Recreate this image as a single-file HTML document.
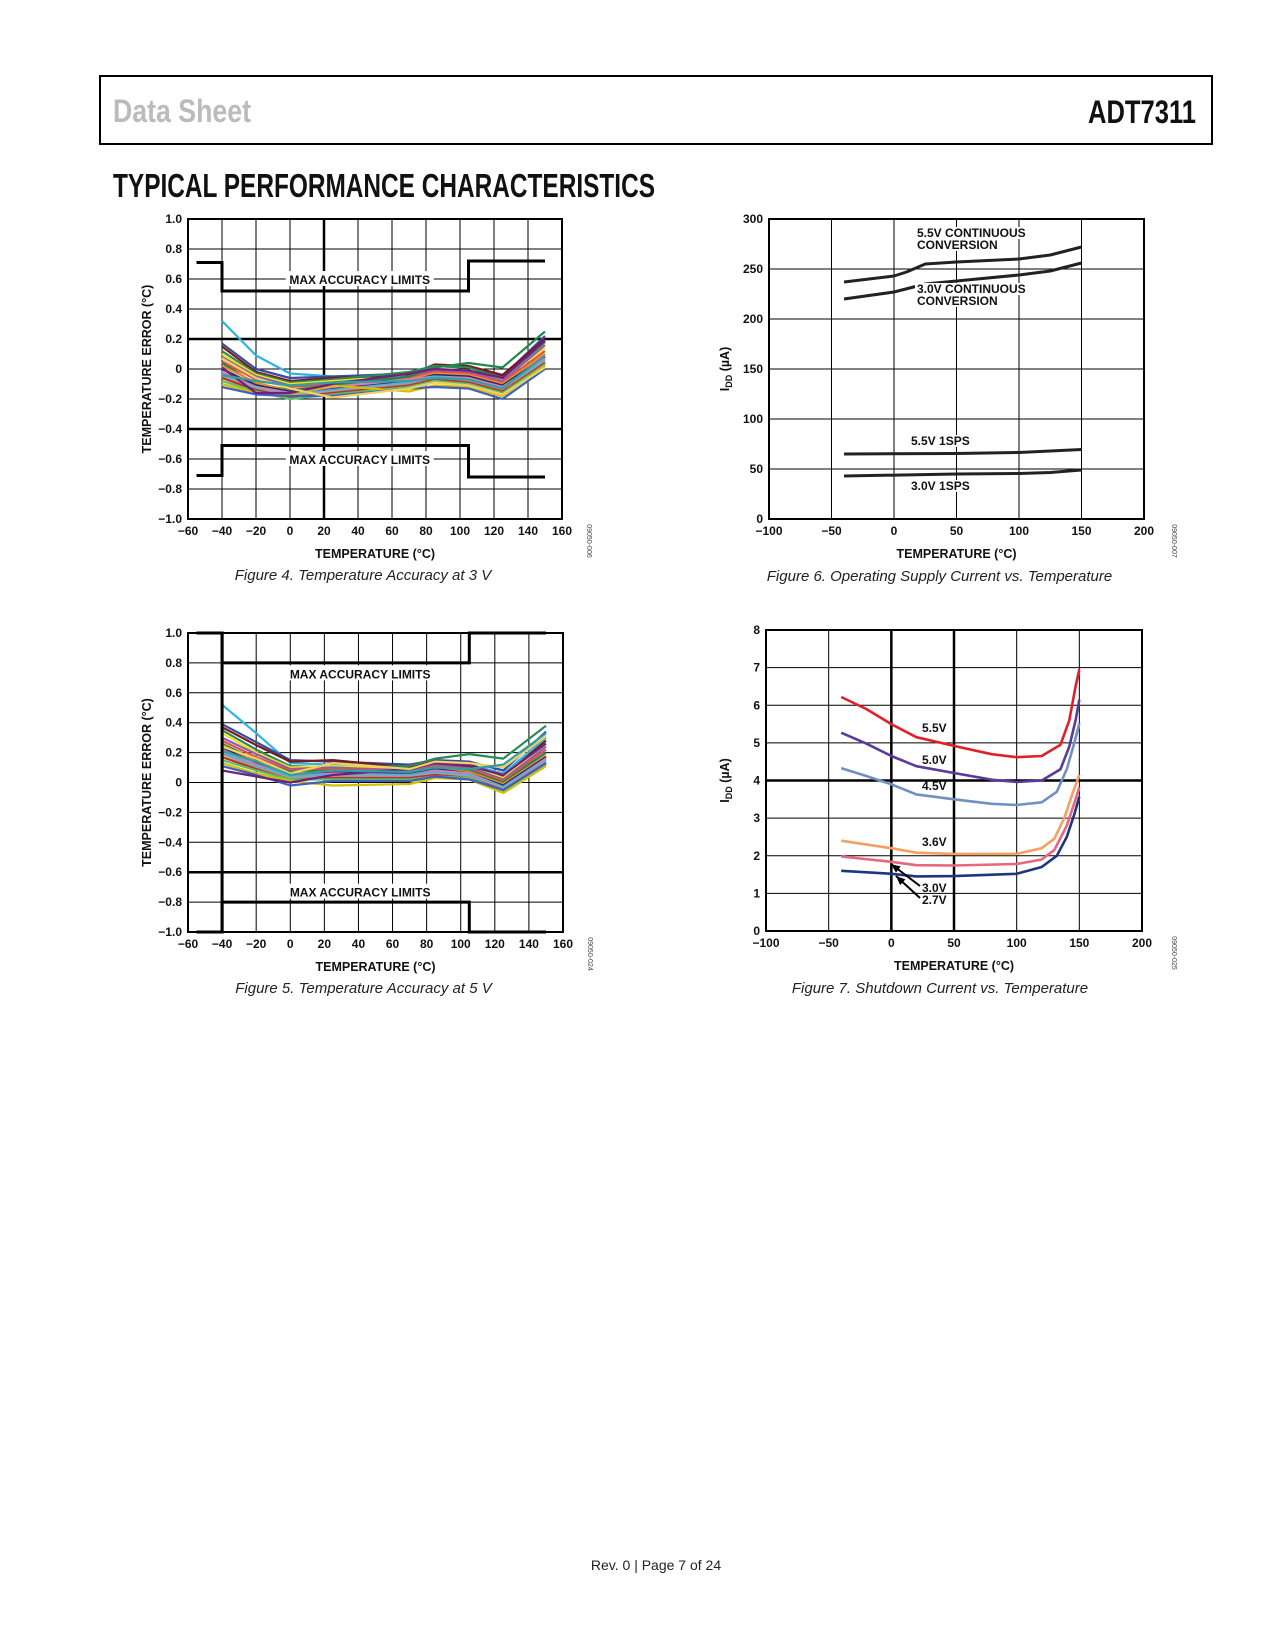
<!DOCTYPE html>
<html><head><meta charset="utf-8"><style>
html,body{margin:0;padding:0;background:#fff;}
svg{display:block;}
text{font-family:"Liberation Sans",sans-serif;}
.tk{font-size:12px;font-weight:bold;fill:#111;}
.at{font-size:12.5px;font-weight:bold;fill:#111;}
.cap{font-size:15px;font-style:italic;fill:#222;}
.lbl{font-size:12px;font-weight:bold;fill:#111;}
.code{font-size:7px;fill:#444;}
</style></head><body>
<svg id="page" width="1275" height="1650" viewBox="0 0 1275 1650" xmlns="http://www.w3.org/2000/svg">
<rect x="100" y="76" width="1112" height="68" fill="none" stroke="#000" stroke-width="2"/>
<text x="113" y="122" font-family="'Liberation Sans Narrow','Liberation Sans',sans-serif" font-weight="bold" font-size="32" fill="#bbb" textLength="138" lengthAdjust="spacingAndGlyphs">Data Sheet</text>
<text x="1088" y="123" font-family="'Liberation Sans Narrow','Liberation Sans',sans-serif" font-weight="bold" font-size="32" fill="#111" textLength="108" lengthAdjust="spacingAndGlyphs">ADT7311</text>
<text x="113" y="197" font-family="'Liberation Sans Narrow','Liberation Sans',sans-serif" font-weight="bold" font-size="33" fill="#111" textLength="542" lengthAdjust="spacingAndGlyphs">TYPICAL PERFORMANCE CHARACTERISTICS</text>
<text x="656" y="1570" text-anchor="middle" font-size="14" fill="#222">Rev. 0 | Page 7 of 24</text>
<g id="g1"></g><g id="g2"></g><g id="g3"></g><g id="g4"></g>
</svg>
<script>
// ---------- Figure 4 data (3 V) ----------
const f4Temps = [-40,-20,0,25,70,85,105,125,150];
const f4Series = [
 [0.32,0.09,-0.03,-0.05,-0.05,-0.02,-0.03,-0.10,0.05],
 [0.17,0.00,-0.06,-0.05,-0.03,0.02,0.01,-0.05,0.22],
 [0.15,-0.02,-0.08,-0.06,-0.04,0.03,0.02,-0.04,0.20],
 [0.12,-0.03,-0.09,-0.07,-0.02,0.02,0.01,-0.06,0.18],
 [0.10,-0.04,-0.10,-0.08,-0.05,0.00,-0.01,-0.07,0.14],
 [0.08,-0.05,-0.11,-0.09,-0.05,-0.01,-0.02,-0.08,0.16],
 [0.05,-0.07,-0.12,-0.10,-0.06,-0.02,-0.03,-0.09,0.12],
 [0.04,-0.10,-0.14,-0.11,-0.05,0.01,0.04,0.01,0.25],
 [0.02,-0.09,-0.15,-0.12,-0.07,-0.03,-0.04,-0.10,0.10],
 [0.00,-0.11,-0.15,-0.13,-0.08,-0.04,-0.05,-0.11,0.08],
 [-0.02,-0.12,-0.16,-0.12,-0.07,-0.05,-0.06,-0.12,0.07],
 [-0.03,-0.13,-0.17,-0.14,-0.09,-0.05,-0.07,-0.13,0.06],
 [-0.05,-0.12,-0.18,-0.15,-0.10,-0.06,-0.08,-0.14,0.05],
 [-0.06,-0.14,-0.19,-0.16,-0.11,-0.07,-0.09,-0.15,0.04],
 [-0.08,-0.15,-0.20,-0.17,-0.12,-0.08,-0.10,-0.16,0.03],
 [-0.10,-0.16,-0.17,-0.11,-0.15,-0.11,-0.12,-0.18,0.02],
 [-0.12,-0.17,-0.18,-0.18,-0.13,-0.12,-0.13,-0.20,0.00],
 [0.01,-0.16,-0.16,-0.10,-0.03,0.00,-0.01,-0.06,0.19],
 [0.07,-0.06,-0.13,-0.19,-0.13,-0.09,-0.11,-0.17,0.01],
 [-0.04,-0.08,-0.11,-0.09,-0.08,-0.06,-0.07,-0.13,0.09]
];
// ---------- Figure 5 data (5 V) ----------
const f5Temps = [-40,-20,0,25,70,85,105,125,150];
const f5Series = [
 [0.52,0.33,0.13,0.12,0.11,0.12,0.12,0.06,0.30],
 [0.39,0.27,0.15,0.14,0.12,0.15,0.14,0.08,0.34],
 [0.37,0.25,0.14,0.15,0.10,0.14,0.12,0.04,0.28],
 [0.35,0.22,0.11,0.10,0.11,0.16,0.19,0.16,0.38],
 [0.33,0.20,0.10,0.11,0.09,0.13,0.11,0.03,0.26],
 [0.30,0.19,0.09,0.10,0.08,0.12,0.10,0.02,0.24],
 [0.28,0.17,0.08,0.09,0.07,0.11,0.09,0.01,0.22],
 [0.26,0.15,0.07,0.08,0.07,0.10,0.08,0.00,0.20],
 [0.25,0.14,0.06,0.07,0.06,0.09,0.07,-0.01,0.18],
 [0.23,0.13,0.05,0.07,0.06,0.09,0.06,-0.02,0.17],
 [0.22,0.12,0.04,0.06,0.05,0.08,0.06,-0.03,0.16],
 [0.20,0.11,0.04,0.05,0.05,0.07,0.05,-0.03,0.15],
 [0.19,0.10,0.03,0.04,0.04,0.06,0.04,-0.04,0.14],
 [0.17,0.09,0.02,0.03,0.03,0.05,0.03,-0.05,0.13],
 [0.15,0.08,0.02,0.02,0.02,0.04,0.03,-0.06,0.12],
 [0.13,0.06,0.01,-0.02,-0.01,0.03,0.02,-0.07,0.11],
 [0.11,0.05,-0.02,0.01,0.01,0.04,0.02,-0.05,0.13],
 [0.08,0.04,0.00,0.05,0.09,0.13,0.11,0.05,0.26],
 [0.24,0.16,0.06,0.13,0.09,0.14,0.13,0.10,0.31],
 [0.21,0.14,0.05,0.08,0.07,0.10,0.09,0.12,0.33]
];
const seriesColors = ["#2bb5e0","#3a4aa0","#7a1a1a","#2a8a5a","#f0e020","#8a60b0","#e05050","#20884a","#f08c20","#1e2c7a","#e878b0","#50b0d8","#a0a0a0","#c03030","#60c060","#d0c000","#4060c0","#702080","#f0d060","#30a0a0"];

// ---------- Figure 6 data ----------
const f6Labels = ["5.5V CONTINUOUS","3.0V CONTINUOUS","5.5V 1SPS","3.0V 1SPS"];
const f6X = [[-40,0,10,25,50,100,125,150],[-40,0,25,50,100,125,150],[-40,50,100,150],[-40,50,100,125,150]];
const f6Y = [[237,243,247,255,257,260,264,272],[220,227,235,238,244,248,256],[65,65.5,66.5,69.5],[43,45,45.5,46.5,49]];

// ---------- Figure 7 data ----------
const f7Labels = ["5.5V","5.0V","4.5V","3.6V","3.0V","2.7V"];
const f7X = [
 [-40,-20,0,20,50,80,100,120,135,142,147,150],
 [-40,-20,0,20,50,80,100,120,135,142,147,150],
 [-40,-20,0,20,50,80,100,120,132,140,146,150],
 [-40,0,20,50,100,120,130,138,145,150],
 [-40,0,20,50,100,120,130,140,146,150],
 [-40,0,20,50,100,120,132,140,146,150]];
const f7Y = [
 [6.22,5.9,5.5,5.15,4.92,4.7,4.62,4.65,4.95,5.6,6.5,6.95],
 [5.27,4.98,4.65,4.38,4.2,4.02,3.96,4.0,4.3,4.9,5.6,6.15],
 [4.33,4.12,3.9,3.63,3.5,3.38,3.35,3.42,3.7,4.3,5.0,5.52],
 [2.4,2.2,2.08,2.05,2.05,2.2,2.45,3.0,3.7,4.15],
 [1.98,1.84,1.75,1.74,1.78,1.9,2.15,2.8,3.4,3.82],
 [1.6,1.52,1.45,1.46,1.52,1.7,2.0,2.5,3.1,3.57]];
const f7Colors = ["#e0202a","#5a3a9a","#7090c4","#f5a060","#e8667e","#1f3580"];

const NS = "http://www.w3.org/2000/svg";
function mk(parent, tag, attrs){ const e=document.createElementNS(NS,tag); for(const k in attrs) e.setAttribute(k,attrs[k]); parent.appendChild(e); return e; }
function axes(g, box, xmin, xmax, ymin, ymax){
  const sx = v => box.l + (v-xmin)/(xmax-xmin)*(box.r-box.l);
  const sy = v => box.b - (v-ymin)/(ymax-ymin)*(box.b-box.t);
  return {sx, sy};
}
function grid(g, box, sx, sy, xt, yt, thickX, thickY, xfmt, yfmt){
  xt.forEach(v=>{ const l=mk(g,'line',{x1:sx(v),x2:sx(v),y1:box.t,y2:box.b,stroke:'#000','stroke-width':thickX.includes(v)?2.5:1});
     
    const t=mk(g,'text',{x:sx(v),y:box.b+16,'text-anchor':'middle',class:'tk'}); t.textContent=xfmt(v);
      });
  yt.forEach(v=>{ const l=mk(g,'line',{x1:box.l,x2:box.r,y1:sy(v),y2:sy(v),stroke:'#000','stroke-width':thickY.includes(v)?2.5:1});
     
    const t=mk(g,'text',{x:box.l-6,y:sy(v)+4,'text-anchor':'end',class:'tk'}); t.textContent=yfmt(v);
      });
  const r=mk(g,'rect',{x:box.l,y:box.t,width:box.r-box.l,height:box.b-box.t,fill:'none',stroke:'#000','stroke-width':2});
   
}
function txt(g, x, y, s, cls, name, extra){ const t=mk(g,'text',Object.assign({x,y,class:cls},extra||{})); t.textContent=s;
    return t; }
function code(g,x,y,s){ const t=mk(g,'text',{x,y,class:'code','text-anchor':'middle',transform:`rotate(90 ${x} ${y})`}); t.textContent=s;
    }
const minus = v => (v<0?'\u2212':'') + Math.abs(v);
const fmt1 = v => v===0?'0':(v<0?'\u2212':'')+Math.abs(v).toFixed(1);
function pts(xs, ys, sx, sy){ return xs.map((x,i)=>sx(x).toFixed(1)+','+sy(ys[i]).toFixed(1)).join(' '); }

function accuracyChart(g, box, temps, series, limitsUp, limitsDn, labelY, thickX, thickY, capText, codeText, fullVert){
  const {sx,sy}=axes(g,box,-60,160,-1,1);
  grid(g,box,sx,sy,[-60,-40,-20,0,20,40,60,80,100,120,140,160],[-1,-0.8,-0.6,-0.4,-0.2,0,0.2,0.4,0.6,0.8,1],thickX,thickY,minus,fmt1);
  series.forEach((s,i)=>{ const p=mk(g,'polyline',{points:pts(temps,s,sx,sy),fill:'none',stroke:seriesColors[i%seriesColors.length],'stroke-width':2.2,'stroke-linejoin':'round'});
      });
  const limX=[-55,-40,-40,105,105,150];
  [limitsUp,limitsDn].forEach(L=>{ const p=mk(g,'polyline',{points:pts(limX,L,sx,sy),fill:'none',stroke:'#000','stroke-width':3});
      });
  if(fullVert){ const l=mk(g,'line',{x1:sx(-40),x2:sx(-40),y1:box.t,y2:box.b,stroke:'#000','stroke-width':3});   }
  labelY.forEach(v=>{ const cx=sx(41); const r=mk(g,'rect',{x:cx-74,y:sy(v)-8,width:148,height:15,fill:'#fff'});
     
    txt(g,cx,sy(v)+5,'MAX ACCURACY LIMITS','lbl','limit-label',{'text-anchor':'middle'}); });
  txt(g,(box.l+box.r)/2,box.b+39,'TEMPERATURE (°C)','at','x-axis-title',{'text-anchor':'middle'});
  const yc=(box.t+box.b)/2; txt(g,box.l-41,yc,'TEMPERATURE ERROR (°C)','at','y-axis-title',{'text-anchor':'middle',transform:`rotate(-90 ${box.l-41} ${yc})`}).setAttribute('dy','4');
  txt(g,(box.l+box.r)/2-12,box.b+61,capText,'cap','figure-caption',{'text-anchor':'middle'});
  code(g,box.r+25,box.b+22,codeText);
}
accuracyChart(document.getElementById('g1'),{l:188,r:562,t:219,b:519},f4Temps,f4Series,
  [0.71,0.71,0.52,0.52,0.72,0.72],[-0.71,-0.71,-0.51,-0.51,-0.72,-0.72],[0.6,-0.6],[20],[0.2,-0.4],
  'Figure 4. Temperature Accuracy at 3 V','09050-006',false);
accuracyChart(document.getElementById('g3'),{l:188,r:563,t:633,b:932},f5Temps,f5Series,
  [1.0,1.0,0.8,0.8,1.0,1.0],[-1.0,-1.0,-0.8,-0.8,-1.0,-1.0],[0.73,-0.73],[-40],[-0.6],
  'Figure 5. Temperature Accuracy at 5 V','09050-024',true);

function iddTitle(g,x,yc){ const t=mk(g,'text',{x,y:yc,'text-anchor':'middle',class:'at',transform:`rotate(-90 ${x} ${yc})`,dy:4});
   
  const a=mk(t,'tspan',{}); a.textContent='I'; const b=mk(t,'tspan',{'font-size':'9',dy:3}); b.textContent='DD';
  const c=mk(t,'tspan',{dy:-3}); c.textContent=' (µA)'; }

// Figure 6
(function(){
  const g=document.getElementById('g2'); const box={l:769,r:1144,t:219,b:519};
  const {sx,sy}=axes(g,box,-100,200,0,300);
  grid(g,box,sx,sy,[-100,-50,0,50,100,150,200],[0,50,100,150,200,250,300],[],[],minus,v=>String(v));
  f6X.forEach((xs,i)=>{ const p=mk(g,'polyline',{points:pts(xs,f6Y[i],sx,sy),fill:'none',stroke:'#222','stroke-width':3,'stroke-linejoin':'round'});
      });
  [[917,237,'5.5V CONTINUOUS'],[917,249,'CONVERSION'],[917,293,'3.0V CONTINUOUS'],[917,305,'CONVERSION'],[911,445,'5.5V 1SPS'],[911,490,'3.0V 1SPS']].forEach(a=>{
    const r=mk(g,'rect',{x:a[0]-2,y:a[1]-10,width:a[2].length*8.2,height:12,fill:'#fff'});  
    txt(g,a[0],a[1],a[2],'lbl','curve-label'); });
  txt(g,(box.l+box.r)/2,box.b+39,'TEMPERATURE (°C)','at','x-axis-title',{'text-anchor':'middle'});
  iddTitle(g,725,(box.t+box.b)/2);
  txt(g,(box.l+box.r)/2-17,box.b+62,'Figure 6. Operating Supply Current vs. Temperature','cap','figure-caption',{'text-anchor':'middle'});
  code(g,1172,box.b+22,'09050-007');
})();

// Figure 7
(function(){
  const g=document.getElementById('g4'); const box={l:766,r:1142,t:630,b:931};
  const {sx,sy}=axes(g,box,-100,200,0,8);
  grid(g,box,sx,sy,[-100,-50,0,50,100,150,200],[0,1,2,3,4,5,6,7,8],[0,50],[4],minus,v=>String(v));
  f7X.forEach((xs,i)=>{ const p=mk(g,'polyline',{points:pts(xs,f7Y[i],sx,sy),fill:'none',stroke:f7Colors[i],'stroke-width':2.6,'stroke-linejoin':'round'});
      });
  [[922,732,'5.5V'],[922,764,'5.0V'],[922,790,'4.5V'],[922,846,'3.6V'],[922,892,'3.0V'],[922,904,'2.7V']].forEach(a=>txt(g,a[0],a[1],a[2],'lbl','curve-label'));
  [[920,886,891,864],[920,898,896,876]].forEach(a=>{ const l=mk(g,'line',{x1:a[0],y1:a[1],x2:a[2],y2:a[3],stroke:'#000','stroke-width':2});
     
    const ang=Math.atan2(a[3]-a[1],a[2]-a[0]); const hx=a[2],hy=a[3];
    const p=mk(g,'polygon',{points:`${hx},${hy} ${hx-10*Math.cos(ang-0.4)},${hy-10*Math.sin(ang-0.4)} ${hx-10*Math.cos(ang+0.4)},${hy-10*Math.sin(ang+0.4)}`,fill:'#000'});
      });
  txt(g,(box.l+box.r)/2,box.b+39,'TEMPERATURE (°C)','at','x-axis-title',{'text-anchor':'middle'});
  iddTitle(g,725,(box.t+box.b)/2);
  txt(g,(box.l+box.r)/2-14,box.b+62,'Figure 7. Shutdown Current vs. Temperature','cap','figure-caption',{'text-anchor':'middle'});
  code(g,1172,box.b+22,'09050-025');
})();
</script>
</body></html>
